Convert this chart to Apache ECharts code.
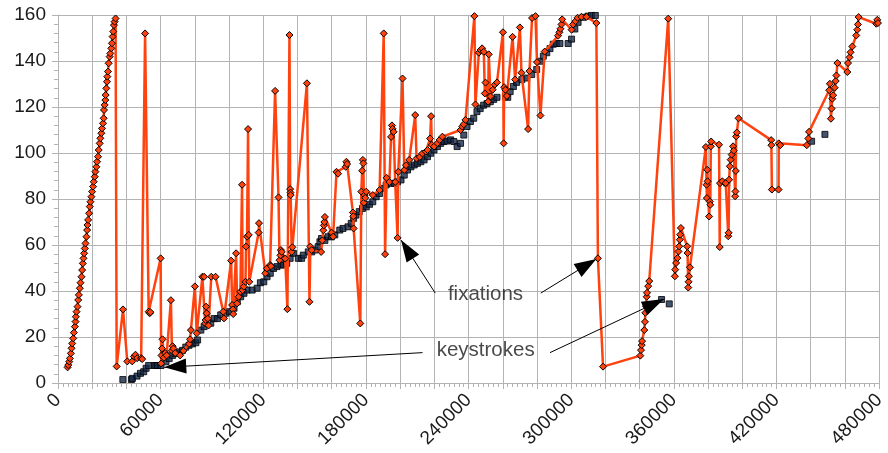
<!DOCTYPE html>
<html>
<head>
<meta charset="utf-8">
<script src="https://cdn.jsdelivr.net/npm/echarts@6/dist/echarts.min.js"></script>
<style>
html,body{margin:0;padding:0;background:#fff;}
#chart{width:888px;height:453px;}
</style>
</head>
<body>
<div id="chart"></div>
<script>
// fixations: [time, character position]
var fixations = [
[5611,6.8],[6000,7.8],[6579,9.3],[6966,10.7],[7546,12.9],[7933,15.1],[8320,17.2],[8901,19.4],[9288,21.9],[9868,24.5],
[10255,26.7],[10449,28.8],[10836,31.0],[11416,33.2],[11803,36.1],[12190,38.3],[12771,41.2],[13158,43.6],[13738,46.2],[14125,49.1],
[14512,52.0],[14899,54.2],[15286,56.4],[15673,58.5],[16060,60.7],[16641,63.6],[17028,66.5],[17221,68.7],[17608,70.9],[18189,73.8],
[18576,76.7],[18963,78.8],[19543,81.0],[19930,83.2],[20511,85.4],[20898,87.5],[21478,89.7],[21865,91.9],[22446,94.0],[22833,96.2],
[23413,98.4],[23800,101.3],[24381,104.2],[24768,106.4],[25348,108.6],[25735,110.7],[26316,112.9],[26703,115.1],[26896,118.7],[27283,120.9],
[27670,123.0],[27864,125.2],[28251,128.1],[28638,131.0],[28831,133.2],[29218,135.4],[29605,139.0],[30186,141.9],[30573,143.3],[31153,145.5],
[31540,147.7],[31927,150.6],[32314,152.8],[32701,155.6],[33088,157.1],[33668,158.5],
[34300,7.2],[38000,32],[40500,9.4],[43400,9.4],[44400,11.5],[45300,12.3],[46300,10.8],[48600,10.8],[49200,10.4],[50900,152],
[53000,31],[53600,30.3],[54000,30.8],[60000,54.2],[60300,8.5],[60500,12],[60800,15],[61100,19],[61900,11],[62700,13],
[63500,12],[66000,36],[66600,14],[67000,16],[67500,15],[68500,13],[71400,12],[73300,14],[76600,17],[77200,19],
[77700,23],[80000,42],[81100,21.6],[84400,46.2],[85400,46.2],[86000,26],[86300,27.4],[86600,33.2],[86900,30.3],[87500,28],
[88000,25],[89600,46.2],[92100,46.2],[96600,31],[97000,28.1],[101200,53.2],[101800,33.9],[102200,32],[102400,30],[104100,56.4],
[104700,34.6],[105600,37.5],[106600,39.7],[107600,86.2],[107900,40.4],[108600,41.9],[109600,44],[109900,59.3],[110500,63.6],[111100,110.4],
[111500,64.4],[111800,44],[117300,65.4],[117500,69.5],[121200,47.7],[122100,49.8],[124000,51.3],[124500,50.8],[126900,127],[128900,80.7],
[129500,53.4],[130000,55.5],[130300,57.8],[130800,57],[132800,54.1],[134100,32.1],[135300,151.3],[135700,84.3],[135900,82.8],[136000,81.7],
[136600,57],[137000,59],[145500,130.3],[147000,35.3],[147500,59.3],[148300,57.8],[153800,57],[154500,62],[155100,66.4],[155400,68.5],
[155700,70],[156000,72.2],[159900,65.4],[160800,63.6],[162800,91.8],[163700,91],[168200,94],[168600,96.2],[169000,95.2],[172400,74.1],
[172600,72.5],[172800,67.2],[176700,25.9],[177300,83.2],[177800,92.3],[178200,97],[178500,95.5],[178800,78.4],[179200,81.7],[179600,80.5],
[180200,83.2],[184000,81.7],[188000,83.9],[190400,152],[191200,56],[192100,89.2],[193700,87.4],[194700,107],[195200,112],[195600,110.5],
[196200,109.2],[197100,87.4],[198500,63.1],[198900,91.8],[201400,132.4],[202400,92.6],[203400,94.7],[205300,97],[208800,116.5],[209600,97.6],
[211500,98.3],[213000,99.8],[215000,100.6],[216000,101.3],[217500,106.3],[218100,116],[218500,103.5],[219800,102.8],[221800,104.2],[223100,105.7],
[224700,107.1],[235300,110],[236300,111.5],[237200,112.5],[238200,114.4],[243400,159.5],[244000,121.1],[246000,143.6],[247000,144.8],[247900,145.5],
[248900,144],[249500,125.9],[249900,130.6],[251400,122.3],[251800,142.9],[252800,124.6],[254100,127.5],[255300,129.7],[256600,130.7],[260100,152.5],
[260500,104.2],[260800,128.6],[261500,127.5],[262400,124.8],[265700,150.5],[267200,131.9],[270000,154.6],[270900,134.9],[274800,110.4],[275600,135.6],
[277100,158.7],[279100,159.5],[280000,139.5],[282000,116.3],[284500,144.1],[292300,151],[293100,152.5],[293700,154],[294300,155.9],[294700,158.1],
[300200,153.6],[301100,155.9],[302500,157.3],[303700,158.8],[306000,159.2],[308900,159.2],[314700,156.5],[315600,54.2],[318600,7.1],[340400,11.9],
[340800,14.3],[341200,16.5],[341400,18.2],[342700,23],[343100,26.6],[343300,30.5],[343700,33.4],[344100,37.5],[344300,39.2],[345000,42.1],
[345600,44.3],[356700,158.4],[360600,46.4],[360800,49.3],[361300,52.2],[362100,54.3],[362700,57.2],[363100,59.4],[363500,62.3],[363700,64.5],
[364100,67.4],[367800,59.4],[368000,56.5],[368400,41.5],[368600,44],[368800,46.4],[369400,50.3],[378700,102.6],[379100,86.2],[379300,80.4],
[379500,92.7],[379700,87.7],[380600,72.4],[381000,78.9],[381300,77.5],[381600,102.9],[381800,105],[386400,103.6],[386800,59.1],[387000,86.9],
[388300,87.7],[390300,86.9],[391800,63.8],[392000,65.3],[392300,88.4],[392700,94.2],[393200,97.1],[393800,99.3],[394600,102.9],[395000,101],
[395800,81.2],[396000,83.3],[396200,92.2],[396400,107.2],[396800,108.9],[397800,115.1],[416900,105.6],[417000,103.4],[417300,84.1],[421200,84.1],
[421300,104.2],[422200,103.4],[437700,103.4],[438600,106.3],[439000,109.2],[450800,127.3],[451200,130.1],[451800,114.9],[452200,119.3],[452600,123.6],
[453100,125.1],[454000,128.4],[454600,131.3],[455000,133.7],[455600,139.1],[461400,135.2],[461800,139.1],[462700,141.6],[463300,143.8],[464300,146.3],
[466600,151.1],[467200,153.6],[467600,155.9],[468000,159.1],[478300,156.2],[478900,157.9],[479300,156.5]
];

// keystrokes: [time, character position]
var keystrokes = [
[37900,1.5],[42900,1.5],[43500,2],[46200,3],[48200,4.2],[50100,4.9],[51500,6.4],[53000,7.6],[56300,7.6],[57200,7.6],
[58200,7.6],[60200,7.6],[63100,9.2],[65000,10.6],[67000,12],[68900,12.8],[70800,13.5],[72800,14.2],[74700,15.6],[76600,16.4],
[78600,17],[80600,17.5],[81600,18.7],[83500,23],[85400,24.5],[87400,26],[89300,26],[91300,28],[93200,28],[95100,29.6],
[98000,30.3],[100000,31],[102900,32.5],[104800,35.3],[106800,37.5],[108700,39],[110600,40.4],[113500,40.4],[116400,41.2],[118300,43.6],
[120300,44],[122200,46.2],[124100,47.7],[126000,49.8],[128000,50.6],[130300,51.3],[131800,51.3],[133700,52],[135700,54.2],[137600,56.4],
[140500,54.2],[142400,54.2],[143400,55.6],[146300,57],[148300,57],[150200,57.8],[152100,59.3],[153100,61.4],[154000,62.8],[156000,62],
[157900,63.6],[159800,63.6],[161800,64.4],[164700,66.5],[166600,67.2],[169500,67.9],[171400,69.4],[172800,71.6],[174200,73],[176100,74.5],
[178000,75.9],[180200,76.6],[182100,77.7],[184000,78.8],[186000,81],[187900,82.4],[189900,84.6],[191800,86.1],[194700,86.8],[196600,86.8],
[198500,87.5],[200500,88.3],[202400,90.4],[204300,92.6],[206300,94],[208200,94.8],[210100,95.5],[212100,96.2],[214000,97],[216000,98.4],
[217900,99.9],[219800,101.3],[221800,102.8],[223700,104.2],[225600,105],[227500,105.2],[229500,105.7],[231400,105],[233300,102.8],[235300,104.2],
[237200,107.8],[239100,111.5],[241100,113.7],[243000,115.1],[244900,118],[246800,119.3],[248800,120.8],[250800,121.5],[252700,122.3],[254700,123.3],
[256600,124.2],[261500,124.5],[262900,124.2],[264300,126.7],[266200,128.9],[268100,130.7],[271100,131.9],[274000,132.6],[276900,134.1],[279800,136.3],
[281800,139.9],[283700,142.1],[285700,143.6],[287600,145.4],[289500,147.3],[291500,147.6],[293400,147.6],[298200,147.6],[300200,149.5],[302100,153.9],
[304000,156.8],[306900,159],[309800,159.5],[311800,159.8],[314100,159.8],[352800,36.3],[357300,34.4],[390900,86.9],[440500,105.1],[448300,108.1]
];

// annotation labels: [x, y, text]
var labelNotes = [[249900,38.7,'fixations'],[250000,14.3,'keystrokes']];
// annotation arrows: [fromX, fromY, toX, toY]
var arrowNotes = [
[220500,39.1,200500,62.2],
[282200,39.1,314700,53.9],
[213100,13.2,62100,6.8],
[287600,13.2,354200,36.5]
];

var FONT = 'Liberation Sans';
var chart = echarts.init(document.getElementById('chart'), null, {renderer:'canvas'});
var option = {
  animation:false,
  grid:{left:58, right:3, top:15, bottom:70, containLabel:false},
  xAxis:{
    type:'value', min:0, max:480000, interval:20000,
    axisLine:{show:true, onZero:false, lineStyle:{color:'#b3b3b3', width:1}},
    axisTick:{show:true, length:6, lineStyle:{color:'#b3b3b3'}},
    minorTick:{show:true, splitNumber:7, length:4, lineStyle:{color:'#b3b3b3'}},
    splitLine:{show:true, lineStyle:{color:'#b3b3b3', width:1}},
    axisLabel:{rotate:45, margin:14, color:'#1a1a1a', fontFamily:FONT, fontSize:19,
      formatter:function(v){ return (v % 60000 === 0) ? String(v) : ''; }}
  },
  yAxis:{
    type:'value', min:0, max:160, interval:20,
    axisLine:{show:true, lineStyle:{color:'#b3b3b3', width:1}},
    axisTick:{show:true, length:6, lineStyle:{color:'#b3b3b3'}},
    minorTick:{show:true, splitNumber:5, length:4, lineStyle:{color:'#b3b3b3'}},
    splitLine:{show:true, lineStyle:{color:'#b3b3b3', width:1}},
    axisLabel:{margin:12, color:'#1a1a1a', fontFamily:FONT, fontSize:19}
  },
  series:[
    {
      name:'keystrokes', type:'scatter', data:keystrokes,
      symbol:'rect', symbolSize:6,
      itemStyle:{color:'#15294a', borderColor:'#000', borderWidth:1},
      z:2
    },
    {
      name:'fixations', type:'line', data:fixations,
      showAllSymbol:true, symbol:'diamond', symbolSize:7,
      lineStyle:{color:'#ff420e', width:2.5},
      itemStyle:{color:'#ff420e', borderColor:'#000', borderWidth:1},
      z:3
    },
    {
      name:'notes', type:'scatter', data:labelNotes,
      symbol:'rect', symbolSize:1, silent:true,
      itemStyle:{color:'rgba(0,0,0,0)'},
      label:{show:true, position:'inside', color:'#1a1a1a', fontFamily:FONT, fontSize:20.5,
        formatter:function(p){ return p.data[2]; }},
      markLine:{
        silent:true, symbol:['none','triangle'], symbolSize:[15,22],
        symbolOffset:[0,[0,11]],
        lineStyle:{color:'#000', width:1, type:'solid'},
        itemStyle:{color:'#000'},
        label:{show:false},
        data: arrowNotes.map(function(a){ return [{coord:[a[0],a[1]]},{coord:[a[2],a[3]]}]; })
      },
      z:5
    }
  ]
};
chart.setOption(option);
</script>
</body>
</html>
